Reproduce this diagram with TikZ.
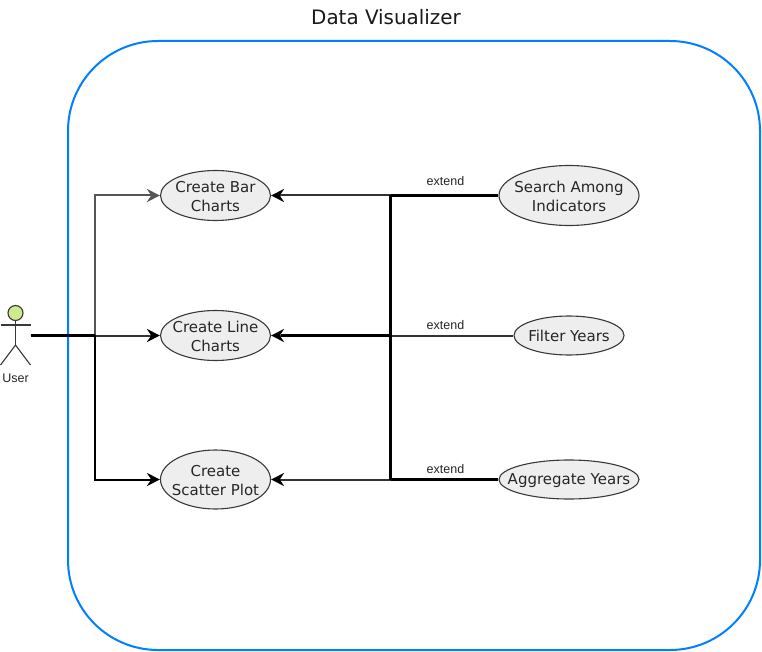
\documentclass[tikz,border=0pt]{standalone}
\usepackage{fontspec}
\setmainfont{DejaVu Sans}
\newfontfamily\smallfont{Liberation Sans}
\usetikzlibrary{shapes.geometric,arrows.meta}
\definecolor{stroke}{HTML}{36393D}
\definecolor{ucfill}{HTML}{EEEEEE}
\definecolor{headfill}{HTML}{CDEB8B}
\definecolor{framecol}{HTML}{007FFF}
\definecolor{graylink}{HTML}{555555}
\tikzset{
  uctext/.style={align=center,text=black!85,inner sep=0pt,yshift=-0.7pt,font=\fontsize{15}{19}\selectfont},
  usecase/.style={ellipse,draw=stroke,fill=ucfill,line width=1.1pt,inner sep=0pt,label={[uctext]center:#1}},
  link/.style={draw=black!80,line width=2pt,-{Stealth[length=13pt,width=13pt,black]}},
  plain/.style={draw=black,line width=2.3pt},
  heavy/.style={draw=black,line width=3.6pt},
  small/.style={font=\smallfont\fontsize{12.5}{14}\selectfont,text=black!85,inner sep=0pt},
  figure/.style={draw=stroke,line width=1.1pt}
}
\begin{document}
\begin{tikzpicture}[x=1pt,y=-1pt]
\useasboundingbox (0,0) rectangle (762,652);
\fill[white] (0,0) rectangle (762,652);
% frame
\node[draw=framecol,line width=2pt,rounded corners=90pt,minimum width=692pt,minimum height=609pt,inner sep=0pt] (frame) at (414,345.5) {};
\node[font=\fontsize{19.9}{24}\selectfont,inner sep=0pt,text=black!90] (title) at (386,17) {Data Visualizer};
% use cases
\node[usecase={Create Bar\\Charts},minimum width=110pt,minimum height=50pt] (bar) at (215.5,195.5) {};
\node[usecase={Create Line\\Charts},minimum width=110pt,minimum height=50pt] (line) at (215.5,335.5) {};
\node[usecase={Create\\Scatter Plot},minimum width=110pt,minimum height=59pt] (scatter) at (215.5,479.5) {};
\node[usecase={Search Among\\Indicators},minimum width=140pt,minimum height=60pt] (search) at (569,195.5) {};
\node[usecase={Filter Years},minimum width=110pt,minimum height=39pt] (filter) at (569,335.5) {};
\node[usecase={Aggregate Years},minimum width=140pt,minimum height=39pt] (aggregate) at (569,479.5) {};
% actor
\node[minimum width=30pt,minimum height=60pt,inner sep=0pt] (user) at (15.5,335.5) {};
\node[circle,draw=stroke,fill=headfill,line width=1.1pt,minimum size=15pt,inner sep=0pt] (head) at (15.5,313) {};
\coordinate (hip) at (15.5,345);
\coordinate (armL) at (0.5,325);
\coordinate (armR) at (30.5,325);
\coordinate (footL) at (0.5,365);
\coordinate (footR) at (30.5,365);
\draw[figure] (head.south) -- (hip);
\draw[figure] (armL) -- (armR);
\draw[figure] (footL) -- (hip) -- (footR);
\node[small] (userlabel) at (15.5,378.5) {User};
% left connectors
\coordinate (lj) at (95,335.5);
\draw[link,draw=graylink,-{Stealth[length=13pt,width=13pt,graylink]}] (user.east) -- (lj) |- (bar.west);
\draw[link] (user.east) -- (line.west);
\draw[link,draw=black] (user.east) -- (lj) |- (scatter.west);
\draw[heavy] (user.east) -- (lj);
% right connectors
\coordinate (rjtop) at (390.5,195.5);
\coordinate (rjmid) at (390.5,335.5);
\coordinate (rjbot) at (390.5,479.5);
\draw[link] (search.west) -- (bar.east);
\draw[link] (filter.west) -- (line.east);
\draw[link] (aggregate.west) -- (scatter.east);
\draw[plain] (rjtop) -- (rjbot);
\draw[heavy] (search.west) -- (rjtop);
\draw[heavy] (aggregate.west) -- (rjbot);
\draw[heavy] (rjmid) -- ([xshift=10pt]line.east);
% labels
\node[small] (ext1) at (445.5,181) {extend};
\node[small] (ext2) at (445.5,325.5) {extend};
\node[small] (ext3) at (445.5,469.5) {extend};
\end{tikzpicture}
\end{document}
